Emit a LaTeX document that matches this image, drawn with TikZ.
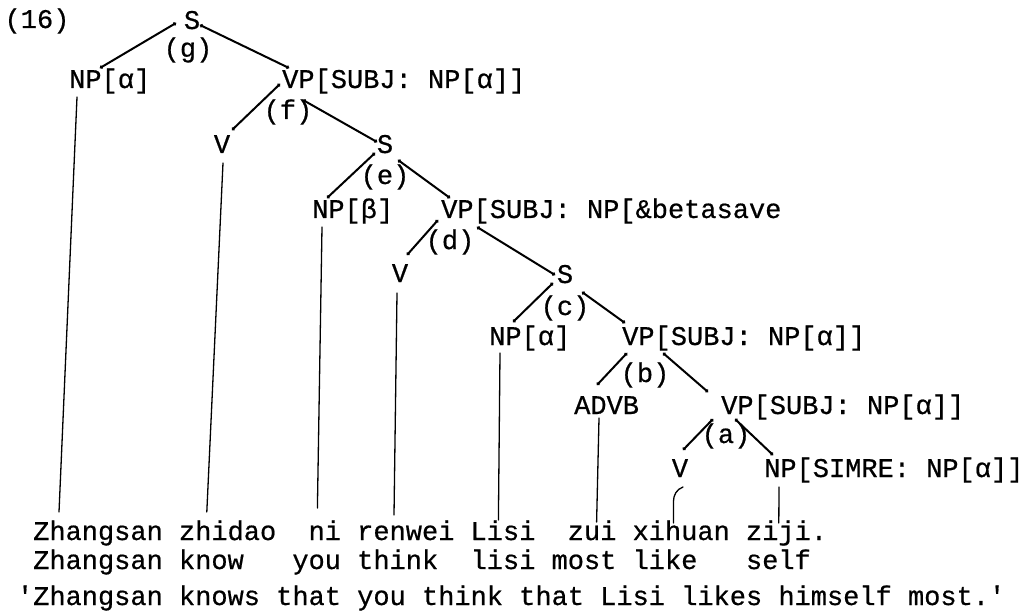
\documentclass[tikz,border=0pt]{standalone}
\usepackage{fontspec}
\newfontface\courf[FakeBold=0.6]{Liberation Mono}
\usetikzlibrary{arrows.meta}
\begin{document}
\begin{tikzpicture}[x=1pt,y=-1pt,
  every node/.style={font=\courf\fontsize{27}{30}\selectfont, inner sep=0pt, text=black},
  lbl/.style={anchor=base west},
  ctr/.style={anchor=base},
  word/.style={anchor=base west},
  edge/.style={line width=2pt, line cap=round, {Circle[length=3.4pt]}-{Circle[length=3.4pt]}},
  stem/.style={line width=1.3pt, line cap=round}]
\useasboundingbox[fill=white] (0,0) rectangle (1024,612);
% tree labels
\node[ctr] (n16) at (37,28) {(16)};
\node[ctr] (S1) at (192,29) {S};
\node[ctr] (g) at (188,57) {(g)};
\node[lbl] (NP1) at (69,88) {NP[α]};
\node[lbl] (VP1) at (282,88) {VP[SUBJ: NP[α]]};
\node[ctr] (V1) at (222,153) {V};
\node[ctr] (f) at (288,119) {(f)};
\node[ctr] (S2) at (385,153) {S};
\node[ctr] (e) at (385,184) {(e)};
\node[lbl] (NP2) at (312,218) {NP[β]};
\node[lbl] (VP2) at (441,218) {VP[SUBJ: NP[\&betasave};
\node[ctr] (d) at (450,249) {(d)};
\node[ctr] (V2) at (400,282) {V};
\node[ctr] (S3) at (565,283) {S};
\node[ctr] (c) at (565,315) {(c)};
\node[lbl] (NP3) at (489,345) {NP[α]};
\node[lbl] (VP3) at (622,345) {VP[SUBJ: NP[α]]};
\node[ctr] (b) at (645,382) {(b)};
\node[lbl] (ADVB) at (574,414) {ADVB};
\node[lbl] (VP4) at (721,414) {VP[SUBJ: NP[α]]};
\node[ctr] (a) at (726,443) {(a)};
\node[ctr] (V3) at (680,477) {V};
\node[lbl] (NP4) at (764,477) {NP[SIMRE: NP[α]]};
% words, row 1
\node[word] (w1) at ({33+0*16.2},540) {Zhangsan};
\node[word] (w2) at ({33+9*16.2},540) {zhidao};
\node[word] (w3) at ({33+17*16.2},540) {ni};
\node[word] (w4) at ({33+20*16.2},540) {renwei};
\node[word] (w5) at ({33+27*16.2},540) {Lisi};
\node[word] (w6) at ({33+33*16.2},540) {zui};
\node[word] (w7) at ({33+37*16.2},540) {xihuan};
\node[word] (w8) at ({33+44*16.2},540) {ziji.};
% glosses, row 2
\node[word] (gl1) at ({33+0*16.2},569) {Zhangsan};
\node[word] (gl2) at ({33+9*16.2},569) {know};
\node[word] (gl3) at ({33+16*16.2},569) {you};
\node[word] (gl4) at ({33+20*16.2},569) {think};
\node[word] (gl5) at ({33+27*16.2},569) {lisi};
\node[word] (gl6) at ({33+32*16.2},569) {most};
\node[word] (gl7) at ({33+37*16.2},569) {like};
\node[word] (gl8) at ({33+44*16.2},569) {self};
% translation
\node[word] (tr) at ({33-1*16.2},605) {'Zhangsan knows that you think that Lisi likes himself most.'};
% tree edges
\draw[edge] ([shift={(-16,-6)}]S1.base) -- ([shift={(31,-20)}]NP1.base west);
\draw[edge] ([shift={(8,-4)}]S1.base) -- ([shift={(7,-20)}]VP1.base west);
\draw[edge] ([shift={(-2,-4)}]VP1.base west) -- ([shift={(10,-23)}]V1.base);
\draw[edge] ([shift={(21,12)}]VP1.base west) -- ([shift={(-8,-11)}]S2.base);
\draw[edge] ([shift={(-10,0)}]S2.base) -- ([shift={(15,-20)}]NP2.base west);
\draw[edge] ([shift={(13,7)}]S2.base) -- ([shift={(9,-20)}]VP2.base west);
\draw[edge] ([shift={(-3,2)}]VP2.base west) -- ([shift={(7,-27)}]V2.base);
\draw[edge] ([shift={(36,9)}]VP2.base west) -- ([shift={(-10,-8)}]S3.base);
\draw[edge] ([shift={(-12,0)}]S3.base) -- ([shift={(24,-23)}]NP3.base west);
\draw[edge] ([shift={(17,9)}]S3.base) -- ([shift={(3,-22)}]VP3.base west);
\draw[edge] ([shift={(5,8)}]VP3.base west) -- ([shift={(23,-29)}]ADVB.base west);
\draw[edge] ([shift={(41,8)}]VP3.base west) -- ([shift={(-13,-22)}]VP4.base west);
\draw[edge] ([shift={(-8,5)}]VP4.base west) -- ([shift={(3,-27)}]V3.base);
\draw[edge] ([shift={(14,5)}]VP4.base west) -- ([shift={(9,-22)}]NP4.base west);
% stems to the words
\draw[stem] ([shift={(8,9)}]NP1.base west) -- ([shift={(26,-28)}]w1.base west);
\draw[stem] ([shift={(1,10)}]V1.base) -- ([shift={(28,-28)}]w2.base west);
\draw[stem] ([shift={(10,9)}]NP2.base west) -- ([shift={(9,-32)}]w3.base west);
\draw[stem] ([shift={(-3,11)}]V2.base) -- ([shift={(37,-25)}]w4.base west);
\draw[stem] ([shift={(11,8)}]NP3.base west) -- ([shift={(28,-20)}]w5.base west);
\draw[stem] ([shift={(25,4)}]ADVB.base west) -- ([shift={(29,-18)}]w6.base west);
\draw[stem] ([shift={(3,10)}]V3.base) to[out=200,in=90] ([shift={(41,-38)}]w7.base west) -- ([shift={(41,-17)}]w7.base west);
\draw[stem] ([shift={(15,10)}]NP4.base west) -- ([shift={(33,-17)}]w8.base west);
\end{tikzpicture}
\end{document}
